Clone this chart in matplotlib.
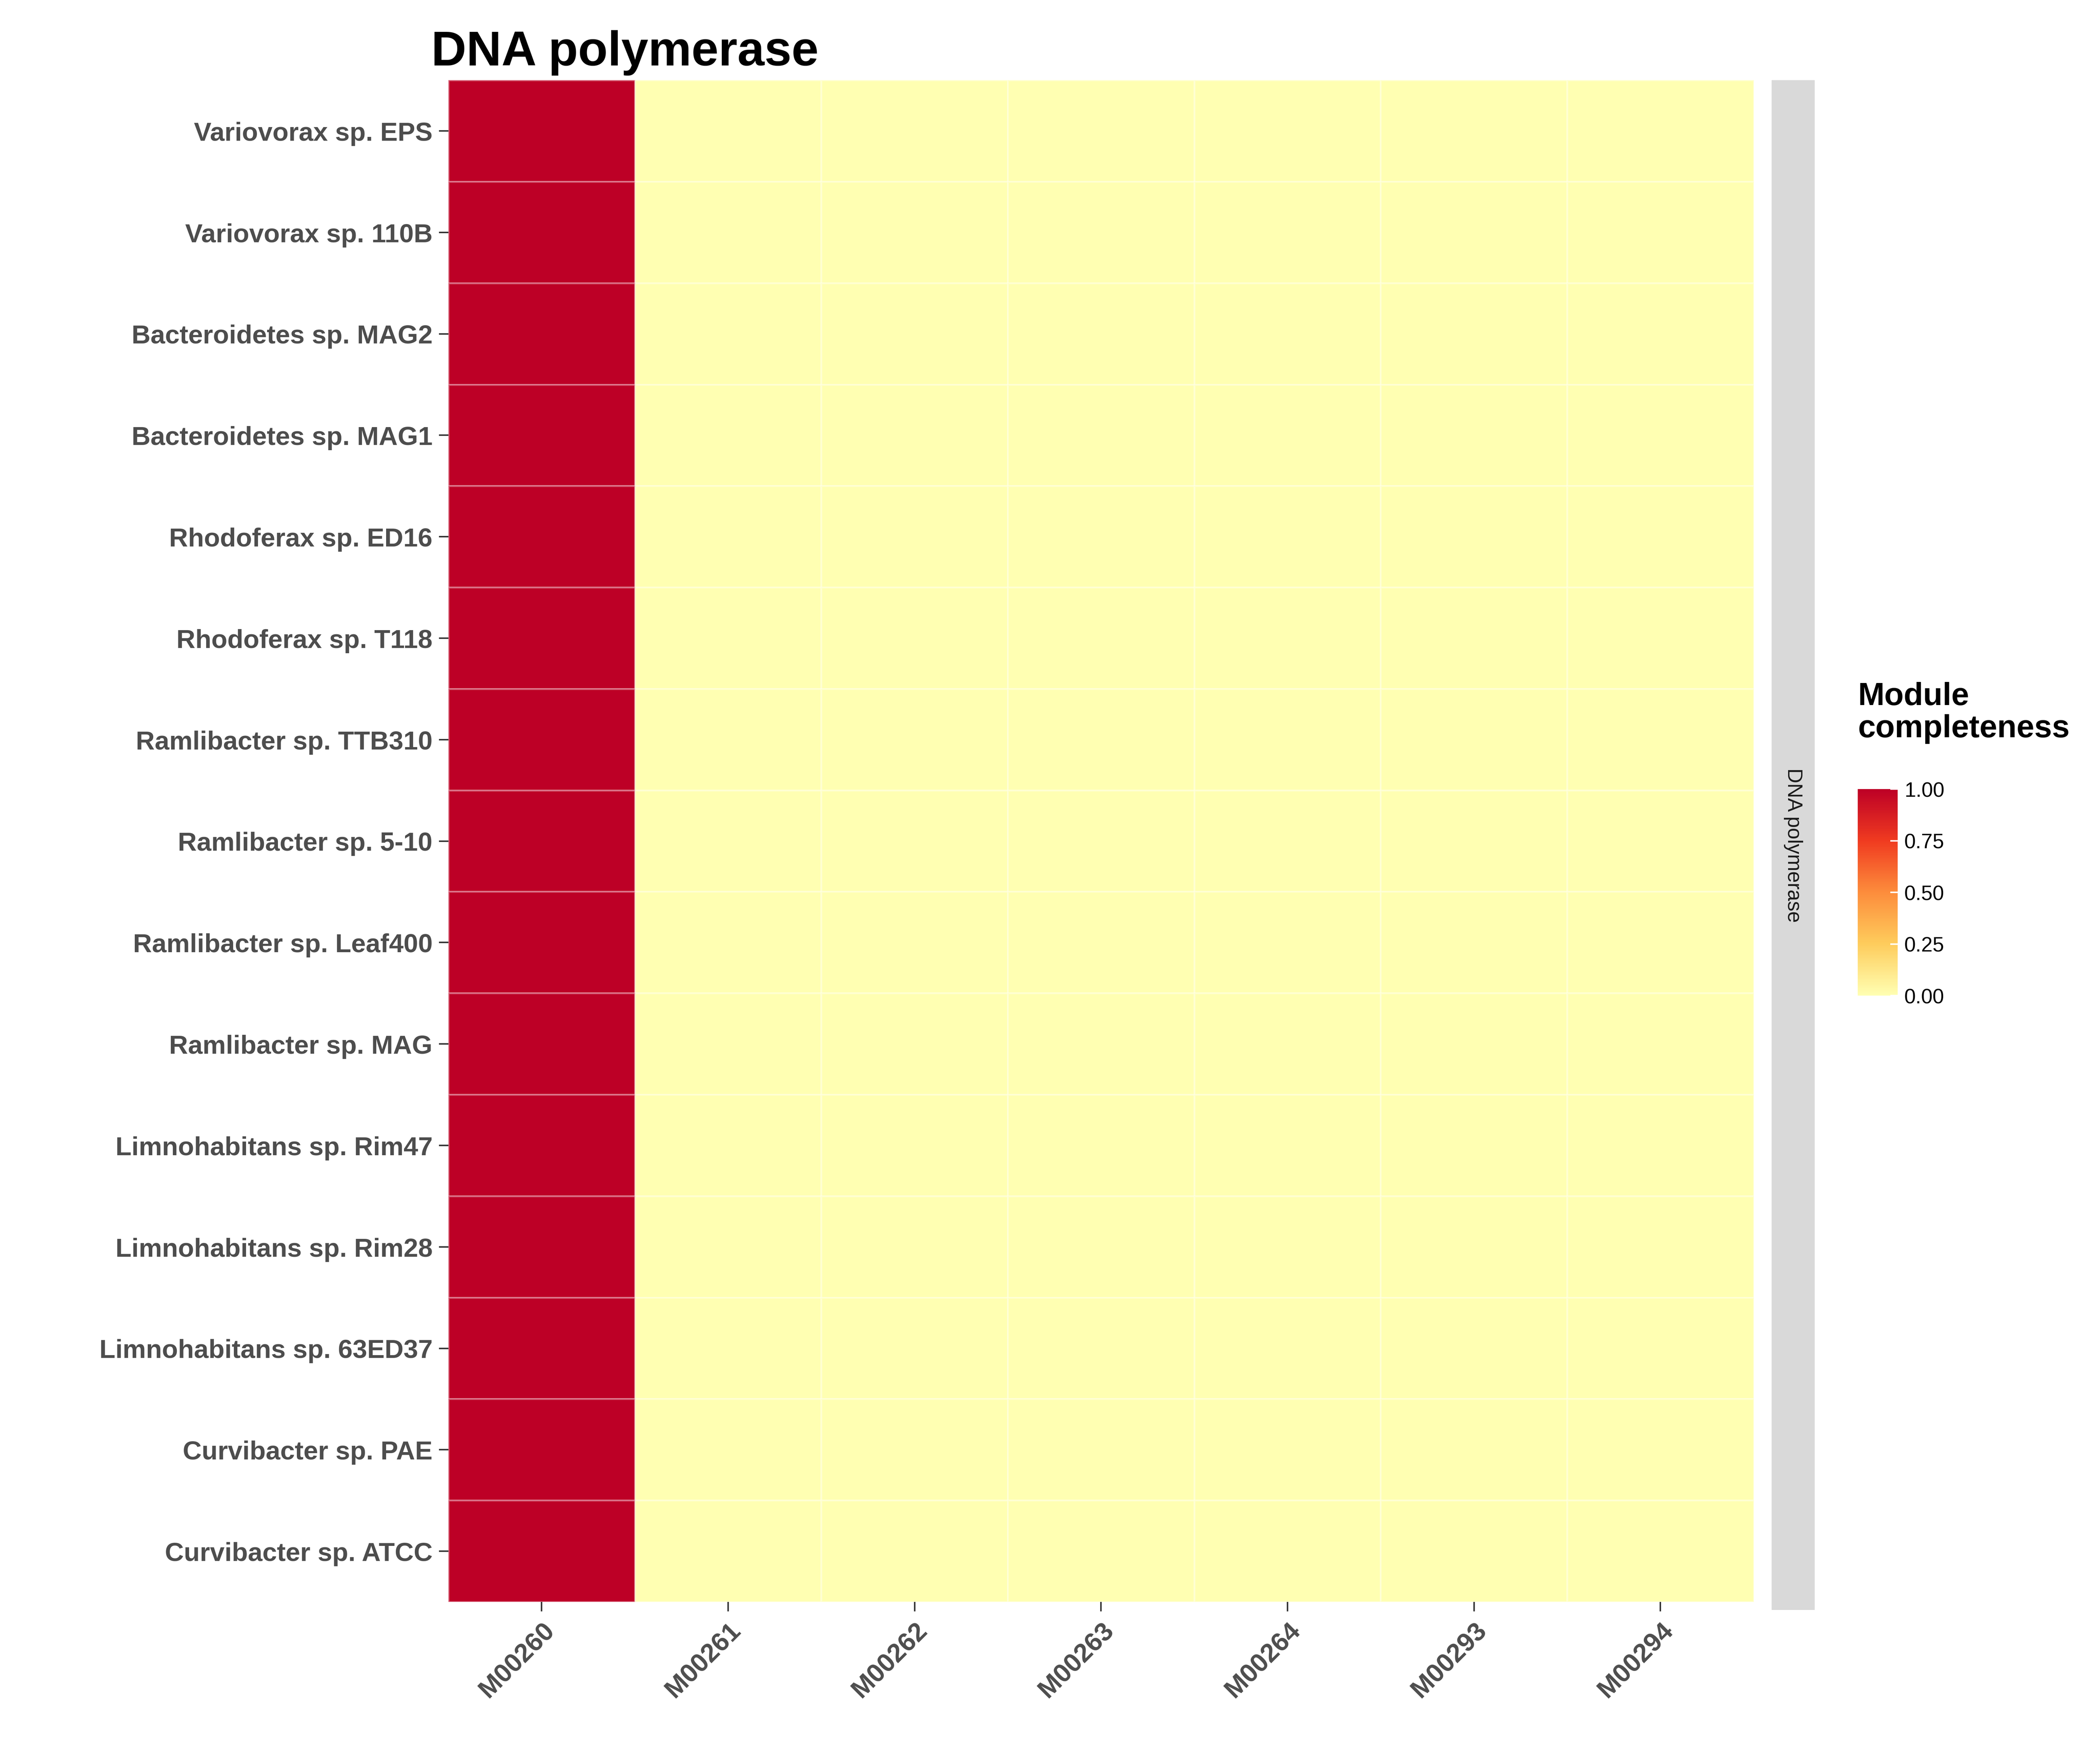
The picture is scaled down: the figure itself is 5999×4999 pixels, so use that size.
import matplotlib
matplotlib.use("Agg")
import matplotlib.pyplot as plt
import numpy as np
from matplotlib.colors import LinearSegmentedColormap

plt.rcParams['font.family'] = ['Liberation Sans', 'DejaVu Sans']

# data
genomes = ["Variovorax sp. EPS", "Variovorax sp. 110B", "Bacteroidetes sp. MAG2",
           "Bacteroidetes sp. MAG1", "Rhodoferax sp. ED16", "Rhodoferax sp. T118",
           "Ramlibacter sp. TTB310", "Ramlibacter sp. 5-10", "Ramlibacter sp. Leaf400",
           "Ramlibacter sp. MAG", "Limnohabitans sp. Rim47", "Limnohabitans sp. Rim28",
           "Limnohabitans sp. 63ED37", "Curvibacter sp. PAE", "Curvibacter sp. ATCC"]
modules = ["M00260", "M00261", "M00262", "M00263", "M00264", "M00293", "M00294"]
completeness = [1.0, 0.0, 0.0, 0.0, 0.0, 0.0, 0.0]  # same for every genome

vals = np.array([completeness for _ in genomes])
cmap = LinearSegmentedColormap.from_list(
    "ylorrd", ["#FFFFB2", "#FECC5C", "#FD8D3C", "#F03B20", "#BD0026"])

fig = plt.figure(figsize=(15.6, 13), dpi=384.6)
ax = fig.add_axes([0.2135, 0.0846, 0.6215, 0.8694])
mesh = ax.pcolormesh(np.arange(len(modules) + 1) - 0.5, np.arange(len(genomes) + 1) - 0.5,
                     vals, cmap=cmap, vmin=0, vmax=1, edgecolor=(1, 1, 1, 0.35), linewidth=0.6)
ax.set_xlim(-0.5, len(modules) - 0.5)
ax.set_ylim(len(genomes) - 0.5, -0.5)
ax.set_xticks(range(len(modules)))
ax.set_xticklabels(modules, rotation=45, ha='right', rotation_mode='anchor',
                   fontsize=14, fontweight='bold', color='#4D4D4D')
ax.set_yticks(range(len(genomes)))
ax.set_yticklabels(genomes, fontsize=14, fontweight='bold', color='#4D4D4D')
ax.tick_params(length=5, color='#333333')
for s in ax.spines.values():
    s.set_visible(False)
ax.set_title("DNA polymerase", loc='left', x=-0.013, fontsize=26, fontweight='bold', pad=8)

# facet strip
sax = fig.add_axes([0.8436, 0.0800, 0.0205, 0.8740])
sax.set_facecolor('#D9D9D9')
sax.set_xticks([]); sax.set_yticks([])
for s in sax.spines.values():
    s.set_visible(False)
sax.text(0.5, 0.5, "DNA polymerase", rotation=-90, ha='center', va='center',
         fontsize=11, color='#1A1A1A', transform=sax.transAxes)

# colorbar
cax = fig.add_axes([0.8846, 0.431, 0.019, 0.118])
cb = fig.colorbar(mesh, cax=cax, ticks=[0, 0.25, 0.5, 0.75, 1.0])
cb.ax.set_yticklabels(["0.00", "0.25", "0.50", "0.75", "1.00"], fontsize=11)
cb.outline.set_visible(False)
cb.ax.tick_params(length=4, color='white', direction='in')
fig.text(0.8846, 0.575, "Module\ncompleteness", fontsize=17, fontweight='bold',
         ha='left', va='bottom', linespacing=1.1)

fig.savefig("out.png", dpi=384.6)
